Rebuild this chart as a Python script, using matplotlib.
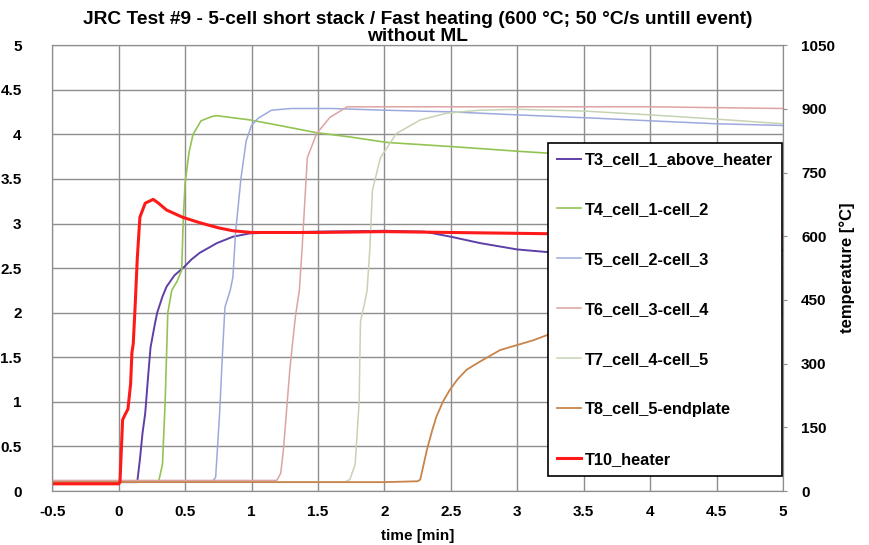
import matplotlib
matplotlib.use("Agg")
import matplotlib.pyplot as plt
import numpy as np

plt.rcParams['font.family'] = ['Liberation Sans', 'DejaVu Sans']
plt.rcParams['font.weight'] = 'bold'

# ---- data (temperature in °C, time in min) ----
t_T3 = [-0.5, 0.14, 0.16, 0.18, 0.2, 0.22, 0.24, 0.27, 0.29, 0.33, 0.36, 0.42, 0.49, 0.55, 0.61,
        0.74, 0.86, 0.99, 1.2, 1.5, 2.0, 2.3, 2.5, 2.72, 3.0, 3.22, 3.5, 4.0, 4.5, 5.0]
T3 = [21, 21, 74, 137, 183, 263, 338, 389, 420, 458, 481, 508, 527, 546, 561,
      584, 599, 607, 609, 611, 613, 611, 599, 584, 569, 563, 565, 567, 567, 567]

t_T4 = [-0.5, 0.30, 0.33, 0.35, 0.37, 0.40, 0.44, 0.475, 0.485, 0.50, 0.53, 0.56, 0.62, 0.70, 0.74,
        0.99, 1.21, 1.49, 1.74, 2.02, 2.52, 3.02, 3.22, 3.5, 4.0, 4.5, 5.0]
T4 = [21, 21, 63, 210, 420, 473, 494, 521, 630, 725, 798, 840, 872, 882, 884,
      874, 861, 844, 834, 821, 811, 800, 796, 792, 785, 779, 773]

t_T5 = [-0.5, 0.70, 0.73, 0.76, 0.78, 0.80, 0.84, 0.86, 0.88, 0.92, 0.96, 1.0, 1.05, 1.15, 1.3,
        1.6, 2.0, 2.5, 3.0, 3.6, 4.0, 4.5, 5.0]
T5 = [21, 21, 32, 183, 315, 433, 473, 504, 609, 735, 825, 861, 878, 897, 901,
      901, 897, 893, 886, 878, 872, 865, 861]

t_T6 = [-0.5, 1.19, 1.22, 1.24, 1.29, 1.33, 1.36, 1.38, 1.42, 1.49, 1.59, 1.72, 2.0, 3.0, 4.0, 5.0]
T6 = [25, 25, 42, 97, 292, 410, 473, 567, 785, 842, 880, 905, 905, 905, 905, 901]

t_T7 = [-0.5, 1.70, 1.74, 1.78, 1.81, 1.82, 1.85, 1.87, 1.89, 1.91, 1.97, 2.09, 2.27, 2.47, 2.72,
        3.0, 3.5, 4.0, 4.5, 5.0]
T7 = [21, 21, 27, 63, 210, 399, 441, 473, 567, 708, 785, 842, 874, 890, 897,
      899, 895, 886, 876, 865]

t_T8 = [-0.5, 2.0, 2.25, 2.27, 2.32, 2.36, 2.39, 2.44, 2.49, 2.55, 2.62, 2.72, 2.87, 3.12, 3.23,
        3.5, 4.0, 4.5, 5.0]
T8 = [21, 21, 23, 27, 97, 143, 174, 210, 237, 263, 286, 305, 332, 355, 368,
      386, 405, 416, 422]

t_T10 = [-0.5, 0.0, 0.01, 0.03, 0.05, 0.07, 0.09, 0.1, 0.11, 0.125, 0.14, 0.16, 0.2, 0.26, 0.3,
         0.36, 0.48, 0.61, 0.75, 0.86, 1.0, 1.5, 2.0, 2.5, 3.0, 3.5, 4.0, 4.5, 5.0]
T10 = [17, 17, 21, 168, 181, 193, 252, 326, 347, 441, 546, 645, 678, 687, 678,
       662, 645, 632, 620, 613, 609, 609, 611, 609, 607, 605, 603, 601, 601]

series = [
    ("T3_cell_1_above_heater", t_T3, T3, "#5E3FA6", 1.4),
    ("T4_cell_1-cell_2", t_T4, T4, "#93C453", 1.2),
    ("T5_cell_2-cell_3", t_T5, T5, "#9DA9DD", 1.1),
    ("T6_cell_3-cell_4", t_T6, T6, "#DDA3A3", 1.1),
    ("T7_cell_4-cell_5", t_T7, T7, "#C6D3B2", 1.1),
    ("T8_cell_5-endplate", t_T8, T8, "#C8844A", 1.3),
    ("T10_heater", t_T10, T10, "#FF1A1A", 2.2),
]

x_ticks = [-0.5, 0, 0.5, 1, 1.5, 2, 2.5, 3, 3.5, 4, 4.5, 5]
x_labels = ["-0.5", "0", "0.5", "1", "1.5", "2", "2.5", "3", "3.5", "4", "4.5", "5"]
yl_ticks = [0, 0.5, 1, 1.5, 2, 2.5, 3, 3.5, 4, 4.5, 5]
yl_labels = ["0", "0.5", "1", "1.5", "2", "2.5", "3", "3.5", "4", "4.5", "5"]
yr_ticks = [0, 150, 300, 450, 600, 750, 900, 1050]

GRID = "#8e8e8e"

fig = plt.figure(figsize=(8.7, 5.45), dpi=100)
ax = fig.add_axes([0.060, 0.099, 0.840, 0.818])
ax.set_xlim(-0.5, 5)
ax.set_ylim(0, 5)
ax.set_xticks(x_ticks)
ax.set_xticklabels(x_labels)
ax.set_yticks(yl_ticks)
ax.set_yticklabels(yl_labels)
ax.grid(True, color=GRID, linewidth=1.0)
ax.set_axisbelow(True)
ax.tick_params(axis='x', length=0, labelsize=11, pad=10)
ax.tick_params(axis='y', length=0, labelsize=11, pad=22)
for s in ax.spines.values():
    s.set_color(GRID)
ax.set_xlabel("time [min]", fontsize=11, fontweight='bold', labelpad=7)

ax2 = ax.twinx()
ax2.set_ylim(0, 1050)
ax2.set_yticks(yr_ticks)
ax2.tick_params(axis='y', length=3, color=GRID, labelsize=11, pad=10)
for s in ax2.spines.values():
    s.set_color(GRID)
ax2.set_ylabel("temperature [°C]", fontsize=12, fontweight='bold', labelpad=3)

for name, tt, vv, col, lw in series:
    ax2.plot(tt, vv, color=col, lw=lw, label=name)

leg = ax2.legend(loc='upper left', bbox_to_anchor=(0.678, 0.780), fontsize=11.8,
                 frameon=True, fancybox=False, framealpha=1, edgecolor='black',
                 labelspacing=2.13, handlelength=1.5, handletextpad=0.2,
                 borderpad=0.55, borderaxespad=0)
leg.get_frame().set_linewidth(1.2)
for txt in leg.get_texts():
    txt.set_fontweight('bold')

ax.set_title("JRC Test #9 - 5-cell short stack / Fast heating (600 °C; 50 °C/s untill event)\nwithout ML",
             fontsize=13.8, fontweight='bold', pad=1, linespacing=1.0)

fig.savefig("out.png", dpi=100)
